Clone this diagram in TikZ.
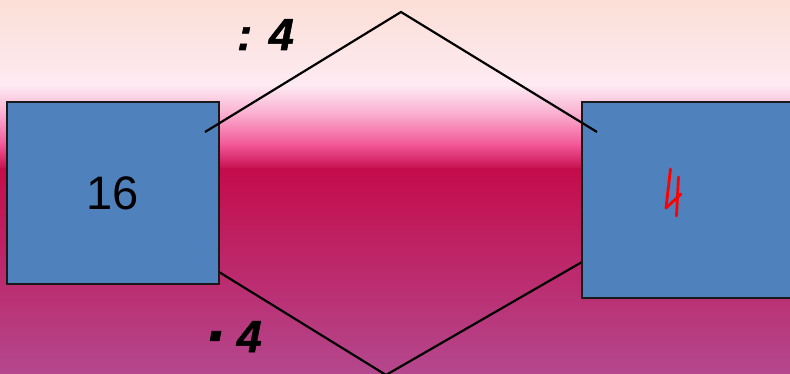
\documentclass[tikz,border=0pt]{standalone}
\usepackage{fontspec}
\setmainfont{Liberation Sans}
\newfontface\heavylabel{Liberation Sans Bold Italic}[FakeBold=1.2]
\begin{document}
\begin{tikzpicture}[x=1pt,y=-1pt,
  box/.style={draw=black!90,line width=1.5pt,fill=boxblue,inner sep=0pt},
  conn/.style={draw=black,line width=2.2pt},
  oplabel/.style={font=\heavylabel\fontsize{45}{45}\selectfont,anchor=base west,inner sep=0pt},
  ink/.style={draw=inkred,line width=2.8pt,line cap=round,line join=round}]
\definecolor{boxblue}{RGB}{79,129,189}
\definecolor{inkred}{RGB}{255,0,0}
\definecolor{bgA}{RGB}{252,223,214}
\definecolor{bgB}{RGB}{253,234,242}
\definecolor{bgC}{RGB}{250,175,208}
\definecolor{bgD}{RGB}{242,85,150}
\definecolor{bgE}{RGB}{196,12,75}
\definecolor{bgF}{RGB}{180,72,142}
\useasboundingbox (0,0) rectangle (790,374);
\clip (0,0) rectangle (790,374);
% background
\shade[top color=bgA,bottom color=bgB] (0,-1) rectangle (790,86);
\shade[top color=bgB,bottom color=bgC] (0,85) rectangle (790,114);
\shade[top color=bgC,bottom color=bgD] (0,113) rectangle (790,146);
\shade[top color=bgD,bottom color=bgE] (0,145) rectangle (790,170);
\shade[top color=bgE,bottom color=bgF] (0,169) rectangle (790,375);
% bottom connectors (behind boxes)
\coordinate (b1) at (219,272);
\coordinate (bv) at (386,375);
\coordinate (b2) at (582,262);
\draw[conn] (b1) -- (bv) -- (b2);
% boxes
\node[box,minimum width=212pt,minimum height=182pt] (L) at (113,193) {\fontsize{47}{47}\selectfont 16};
\node[box,minimum width=220pt,minimum height=196pt] (R) at (692,200) {};
% handwritten red 4
\coordinate (h1) at (670.5,169);
\coordinate (h2) at (666,208);
\coordinate (h3) at (681,194);
\coordinate (h4) at (678.5,177);
\coordinate (h5) at (676.5,216);
\draw[ink] (h1) -- (h2) -- (h3);
\draw[ink] (h4) -- (h5);
% top connectors (over boxes)
\coordinate (t1) at (205,132);
\coordinate (tv) at (401,12);
\coordinate (t2) at (597,132);
\draw[conn] (t1) -- (tv) -- (t2);
% labels
\node[oplabel] (div) at (237,50) {: 4};
\node[oplabel] (mul) at (204,352) {\raisebox{-0.12em}{\fontsize{64}{64}\selectfont ·}\hspace{0.25em}4};
\end{tikzpicture}
\end{document}
